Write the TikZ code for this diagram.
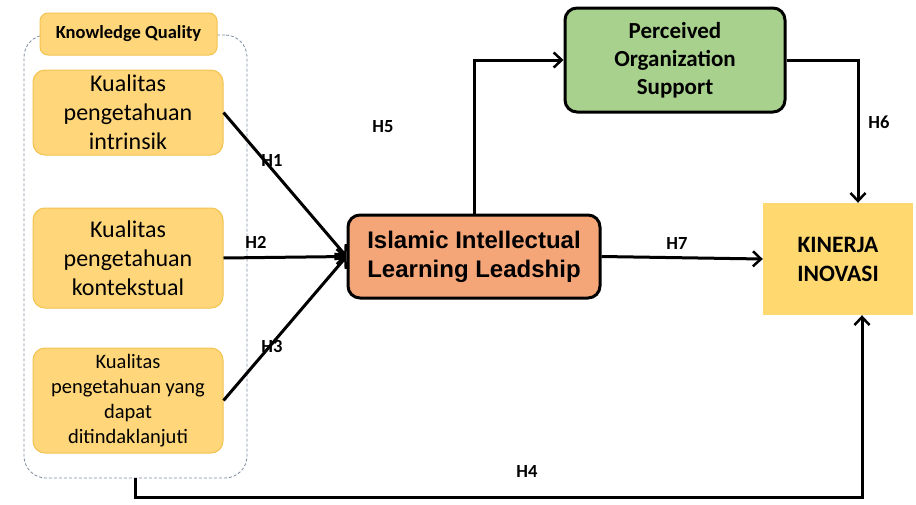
\documentclass[tikz,border=0pt]{standalone}
\usepackage{fontspec}
\setmainfont{Carlito}
\newfontfamily\arialf{Liberation Sans}
\usetikzlibrary{arrows.meta}
\definecolor{ybox}{HTML}{FFD77A}
\definecolor{yedge}{HTML}{F3C24F}
\definecolor{obox}{HTML}{F4A679}
\definecolor{gbox}{HTML}{A8D18D}
\definecolor{kbox}{HTML}{FFD970}
\definecolor{grpline}{HTML}{7F8BA0}
\tikzset{
  kbox/.style={draw=yedge, line width=1pt, fill=ybox, rounded corners=12pt, align=center,
    minimum width=190pt, font=\fontsize{24}{29}\selectfont, inner sep=1pt},
  kbox3/.style={kbox, font=\fontsize{20.5}{25}\selectfont},
  mainbox/.style={draw=black, line width=3pt, rounded corners=12pt, align=center, inner sep=1pt},
  hlab/.style={font=\fontsize{18.5}{20}\bfseries\selectfont},
  arr/.style={line width=3pt, -{Straight Barb[length=8pt,width=15pt,line width=2.5pt]}},
}
\begin{document}
\begin{tikzpicture}[x=1pt,y=-1pt]
\useasboundingbox (0,0) rectangle (916,504);
% group
\node[draw=grpline, dash pattern=on 3pt off 2pt, line width=0.8pt, rounded corners=22pt, minimum width=223pt, minimum height=443pt] (grp) at (135.5,256.5) {};
\node[kbox, minimum width=177pt, minimum height=42pt, font=\fontsize{18.5}{20}\bfseries\selectfont, rounded corners=8pt] (kq) at (128.5,34) {Knowledge Quality};
\node[kbox, minimum height=85pt] (b1) at (128,112.5) {Kualitas\\pengetahuan\\intrinsik};
\node[kbox, minimum height=100pt] (b2) at (128,258) {Kualitas\\pengetahuan\\kontekstual};
\node[kbox3, minimum height=105pt] (b3) at (128,400.5) {Kualitas\\pengetahuan yang\\dapat\\ditindaklanjuti};
% main
\node[mainbox, fill=obox, minimum width=252pt, minimum height=83pt, font=\arialf\fontsize{24}{29}\bfseries\selectfont] (ill) at (474,256.5) {Islamic Intellectual\\Learning Leadship};
\node[mainbox, fill=gbox, minimum width=220pt, minimum height=104pt, font=\fontsize{23}{28}\bfseries\selectfont] (pos) at (675,60) {Perceived\\Organization\\Support};
\node[fill=kbox, minimum width=150pt, minimum height=112pt, align=center, font=\fontsize{23.5}{29}\bfseries\selectfont] (kin) at (838,259) {KINERJA\\INOVASI};
% connectors
\draw[arr] (b1.east) -- (ill.west);
\draw[arr] (b2.east) -- (ill.west);
\draw[arr] (b3.east) -- (ill.west);
\draw[arr] (ill.north) |- (pos.west);
\draw[arr] (pos.east) -| ([xshift=20pt]kin.north);
\draw[arr] (ill.east) -- (kin.west);
\coordinate (h4c) at (862,497);
\draw[arr] (grp.south) |- (h4c) -- (h4c |- kin.south);
% labels
\node[hlab] (l1) at (272,160) {H1};
\node[hlab] (l2) at (256,242) {H2};
\node[hlab] (l3) at (272,346) {H3};
\node[hlab] (l5) at (383,127) {H5};
\node[hlab] (l6) at (879,122) {H6};
\node[hlab] (l7) at (677,243) {H7};
\node[hlab] (l4) at (527,471) {H4};
\end{tikzpicture}
\end{document}
